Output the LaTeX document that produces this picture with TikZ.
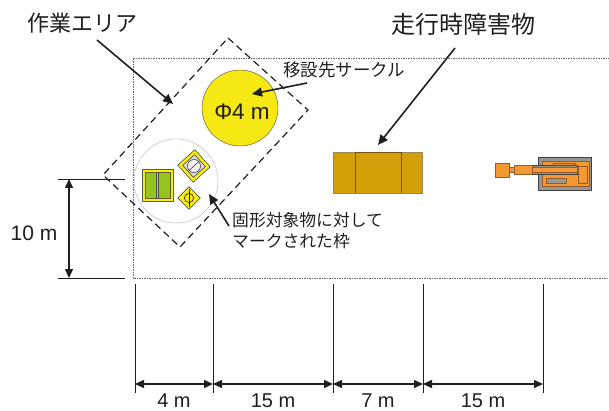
\documentclass[tikz,border=0pt]{standalone}
\usepackage{fontspec}
\setmainfont{Liberation Sans}
\newfontfamily\jp{Noto Sans CJK JP}
\usetikzlibrary{arrows.meta}
\definecolor{ink}{RGB}{35,30,30}
\definecolor{circyellow}{RGB}{246,232,18}
\definecolor{markyellow}{RGB}{248,236,20}
\definecolor{leafgreen}{RGB}{150,196,30}
\definecolor{cargo}{RGB}{212,160,10}
\definecolor{cargoedge}{RGB}{110,85,20}
\definecolor{digger}{RGB}{244,152,52}
\definecolor{diggeredge}{RGB}{150,90,40}
\definecolor{steel}{RGB}{150,150,150}
\tikzset{
  lead/.style={ink, line width=1.6pt, -{Triangle[length=10pt,width=9pt]}},
  dim/.style={ink, line width=1.4pt, {Triangle[length=9pt,width=8pt]}-{Triangle[length=9pt,width=8pt]}},
  tick/.style={ink, line width=0.8pt},
  zone/.style={ink, line width=1.2pt, dash pattern=on 7pt off 4.5pt},
  field/.style={gray!80!black, line width=0.6pt, dash pattern=on 1.5pt off 1pt},
  jlabel/.style={ink, inner sep=0pt, align=left},
  mlabel/.style={ink, inner sep=0pt},
}
\begin{document}
\begin{tikzpicture}[x=1pt,y=-1pt]
\useasboundingbox (0,0) rectangle (609,411);

% working field boundary (open to the right)
\draw[field] (612,58) -- (133,58) -- (133,278) -- (612,278);

% rotated working area
\draw[zone] (228,38) -- (308,110) -- (180,247) -- (103,175) -- cycle;

% relocation circle
\node[circle, draw=gray!60!black, line width=0.4pt, fill=circyellow,
      minimum size=76pt, inner sep=0pt] (relo) at (240,108) {};
\node[mlabel, font=\fontsize{22.5}{24}\selectfont] (phi) at (242,112) {Φ4 m};

% marked frame around fixed objects
\node[circle, draw=gray!45, line width=0.6pt, minimum size=84pt, inner sep=0pt] (frame) at (176,181) {};

% green block
\draw[gray!70!black, line width=0.5pt, fill=markyellow] (142,169) rectangle (173,201);
\draw[olive!60!black, line width=0.6pt, fill=leafgreen] (145,172) rectangle (170,198);
\draw[gray!60!black, line width=0.4pt, fill=gray!50] (156.4,172) rectangle (158.6,198);

% rotated marker with dial
\begin{scope}[shift={(194,166)}, rotate=42]
  \draw[gray!40!black, line width=0.5pt, fill=markyellow] (-11.5,-11.5) rectangle (11.5,11.5);
  \draw[gray!50!black, line width=0.6pt, fill=gray!25] (-8,-8) rectangle (8,8);
  \draw[gray!50!black, line width=0.6pt, fill=gray!10] (0,0) circle (6.5pt);
  \draw[gray!50!black, line width=0.6pt] (-6.5,0) -- (6.5,0);
\end{scope}

% small marker with phi
\begin{scope}[shift={(189,198)}, rotate=45]
  \draw[gray!40!black, line width=0.5pt, fill=markyellow] (-8,-8) rectangle (8,8);
  \draw[ink, line width=0.6pt] (0,0) circle (4.6pt);
  \draw[ink, line width=0.6pt] (-6.5,6.5) -- (6.5,-6.5);
\end{scope}

% obstacle (cargo)
\draw[cargoedge!70, line width=0.5pt, fill=cargo] (333,152) rectangle (422,193);
\draw[cargoedge, line width=0.6pt] (355,152) -- (355,193);
\draw[cargoedge, line width=0.6pt] (401,152) -- (401,193);
\draw[cargoedge, line width=0.6pt] (355,152) -- (401,152);

% excavator
\draw[gray!50!black, line width=0.5pt, fill=steel] (538,157) rectangle (591,190);
\draw[diggeredge, line width=0.5pt, fill=digger] (542,161) rectangle (589,186);
\draw[diggeredge, line width=0.6pt, fill=digger] (578,166) rectangle (587,183);
\draw[diggeredge, line width=0.5pt, fill=steel] (546,178) rectangle (566,183);
\draw[diggeredge, line width=0.5pt, fill=digger] (553,163) rectangle (575,168);
\draw[gray!50!black, line width=0.5pt, fill=steel] (531,165) rectangle (577,174);
\draw[diggeredge, line width=0.4pt, fill=digger] (531,167) rectangle (577,172);
\draw[diggeredge, line width=0.5pt, fill=digger] (514,165) rectangle (532,174);
\draw[diggeredge, line width=0.5pt, fill=digger] (504,167) rectangle (514,172);
\draw[diggeredge, line width=0.5pt, fill=digger] (495,163) rectangle (509,177);

% labels and leaders
\node[jlabel, font=\jp\fontsize{22}{24}\selectfont] (area) at (82,23) {作業エリア};
\coordinate (areaend) at (97,40);
\coordinate (areatip) at (173,104);
\draw[lead] (areaend) -- (areatip);

\node[jlabel, font=\jp\fontsize{24}{26}\selectfont] (obst) at (463,24) {走行時障害物};
\coordinate (obstend) at (455,48);
\coordinate (obsttip) at (378,145);
\draw[lead] (obstend) -- (obsttip);

\node[jlabel, font=\jp\fontsize{17.5}{19}\selectfont] (relolbl) at (344,70) {移設先サークル};
\coordinate (reloend) at (307,83);
\coordinate (relotip) at (252,94);
\draw[lead] (reloend) -- (relotip);

\node[jlabel, font=\jp\fontsize{16.8}{21}\selectfont, anchor=north west] (marklbl) at (232,212) {固形対象物に対して\\マークされた枠};
\coordinate (markend) at (229,226);
\coordinate (marktip) at (209,194);
\draw[lead] (markend) -- (marktip);

% vertical dimension: 10 m
\coordinate (vt1) at (58,179);
\coordinate (vt2) at (125,179);
\coordinate (vb1) at (58,278);
\coordinate (vb2) at (125,278);
\draw[tick] (vt1) -- (vt2);
\draw[tick] (vb1) -- (vb2);
\coordinate (vtop) at (69,179);
\coordinate (vbot) at (69,278);
\draw[dim] (vtop) -- (vbot);
\node[mlabel, font=\fontsize{21}{23}\selectfont] (ten) at (34,233) {10 m};

% horizontal dimensions
\foreach \n/\x in {a/135, b/213, c/333, d/423, e/543}{
  \coordinate (\n1) at (\x,284);
  \coordinate (\n2) at (\x,393);
  \draw[tick] (\n1) -- (\n2);
  \coordinate (\n) at (\x,384);
}
\draw[dim] (a) -- (b);
\draw[dim] (b) -- (c);
\draw[dim] (c) -- (d);
\draw[dim] (d) -- (e);
\node[mlabel, font=\fontsize{20}{22}\selectfont] (d1) at (174,401) {4 m};
\node[mlabel, font=\fontsize{20}{22}\selectfont] (d2) at (273,401) {15 m};
\node[mlabel, font=\fontsize{20}{22}\selectfont] (d3) at (378,401) {7 m};
\node[mlabel, font=\fontsize{20}{22}\selectfont] (d4) at (483,401) {15 m};
\end{tikzpicture}
\end{document}
